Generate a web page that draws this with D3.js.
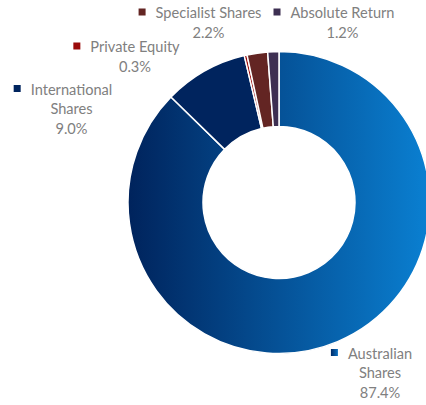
<!DOCTYPE html>
<html>
<head>
<meta charset="utf-8">
<script src="https://cdn.jsdelivr.net/npm/d3@7"></script>
<style>
  body { margin: 0; background: #fff; }
  svg { display: block; }
</style>
</head>
<body>
<div id="chart"></div>
<script>
// data
const categories = ["Australian Shares", "International Shares", "Private Equity", "Specialist Shares", "Absolute Return"];
const values = [87.4, 9.0, 0.3, 2.2, 1.2];
const colors = ["url(#ausGrad)", "#00245e", "#9a0a0a", "#632523", "#3d2f52"];

// label layout: centre x of text block + first baseline, and line breaks
const labelPos = [
  { cx: 380, y: 358.5, lines: ["Australian", "Shares"] },
  { cx: 71.5, y: 94.5, lines: ["International", "Shares"] },
  { cx: 135, y: 52, lines: ["Private Equity"] },
  { cx: 208.5, y: 18, lines: ["Specialist Shares"] },
  { cx: 342.5, y: 18, lines: ["Absolute Return"] }
];

const width = 426, height = 405;
const cx = 279, cy = 202.5;
const outerR = 151, innerR = 76;

const svg = d3.select("#chart")
  .append("svg")
  .attr("width", width)
  .attr("height", height);

const defs = svg.append("defs");
// gradient coords are in the donut group's local space (centred at 0,0)
const grad = defs.append("linearGradient")
  .attr("id", "ausGrad")
  .attr("gradientUnits", "userSpaceOnUse")
  .attr("x1", -outerR).attr("y1", 0)
  .attr("x2", outerR).attr("y2", 0);
grad.append("stop").attr("offset", "0%").attr("stop-color", "#00235c");
grad.append("stop").attr("offset", "100%").attr("stop-color", "#0a80d2");

const keyGrad = defs.append("linearGradient")
  .attr("id", "ausKey")
  .attr("x1", 0).attr("y1", 0).attr("x2", 1).attr("y2", 0);
keyGrad.append("stop").attr("offset", "0%").attr("stop-color", "#002a66");
keyGrad.append("stop").attr("offset", "100%").attr("stop-color", "#0a6fc0");

const pie = d3.pie().sort(null).value(d => d);
const arc = d3.arc().innerRadius(innerR).outerRadius(outerR);

const g = svg.append("g").attr("transform", `translate(${cx},${cy})`);

g.selectAll("path")
  .data(pie(values))
  .join("path")
  .attr("d", arc)
  .attr("fill", (d, i) => colors[i])
  .attr("stroke", "#fff")
  .attr("stroke-width", 1.5);

// labels
const fmt = v => v.toFixed(1) + "%";
const lineH = 19.5;

categories.forEach((c, i) => {
  const p = labelPos[i];
  const lab = svg.append("g")
    .style("font-family", "Lato, 'Open Sans', sans-serif")
    .style("font-size", "14.6px")
    .attr("fill", "#808080");
  const lines = p.lines.concat([fmt(values[i])]);
  let first;
  lines.forEach((t, j) => {
    const txt = lab.append("text")
      .attr("x", p.cx)
      .attr("y", p.y + j * lineH)
      .attr("text-anchor", "middle")
      .text(t);
    if (j === 0) first = txt;
  });
  const w = first.node().getComputedTextLength();
  lab.append("rect")
    .attr("x", p.cx - w / 2 - 17)
    .attr("y", p.y - 9.5)
    .attr("width", 7)
    .attr("height", 7)
    .attr("fill", i === 0 ? "url(#ausKey)" : colors[i]);
});
</script>
</body>
</html>
